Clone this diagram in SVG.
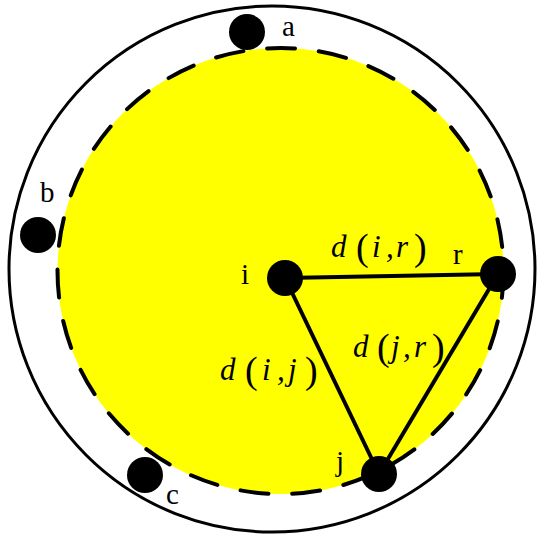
<svg xmlns="http://www.w3.org/2000/svg" width="540" height="540" viewBox="0 0 540 540">
<style>
.lbl{font-family:"Liberation Serif","Times New Roman",serif;font-size:29px;fill:#000}
.m{font-family:"Liberation Serif","Times New Roman",serif;font-style:italic;font-size:31px;fill:#000}
.p{font-style:normal;font-size:38px}
.node{fill:#000}
.edge{stroke:#000;stroke-width:4;fill:none}
</style>
<rect width="540" height="540" fill="#fff"/>
<g id="outer">
<circle cx="272" cy="269" r="263" fill="none" stroke="#000" stroke-width="3"/>
</g>
<g id="region">
<circle cx="280.5" cy="271" r="223" fill="#ffff00" stroke="#000" stroke-width="4" stroke-dasharray="28 23.9" stroke-dashoffset="1" stroke-linecap="round"/>
</g>
<g id="connectors">
<line class="edge" x1="285" y1="278" x2="498" y2="274"/>
<line class="edge" x1="285" y1="278" x2="379" y2="474"/>
<line class="edge" x1="498" y1="274" x2="379" y2="474"/>
<text class="m" y="257"><tspan x="331">d</tspan><tspan class="p" x="356" y="260">(</tspan><tspan x="372" y="257">i</tspan><tspan x="386">,</tspan><tspan x="396">r</tspan><tspan class="p" x="414" y="260">)</tspan></text>
<text class="m" y="380"><tspan x="220">d</tspan><tspan class="p" x="245" y="383">(</tspan><tspan x="262" y="380">i</tspan><tspan x="277">,</tspan><tspan x="288">j</tspan><tspan class="p" x="305" y="383">)</tspan></text>
<text class="m" y="357"><tspan x="353">d</tspan><tspan class="p" x="377" y="360">(</tspan><tspan x="391" y="357">j</tspan><tspan x="403">,</tspan><tspan x="414">r</tspan><tspan class="p" x="432" y="360">)</tspan></text>
</g>
<g id="node-a"><circle class="node" cx="247" cy="32" r="18"/><text class="lbl" x="282" y="36">a</text></g>
<g id="node-b"><circle class="node" cx="38" cy="235" r="18"/><text class="lbl" x="40" y="202">b</text></g>
<g id="node-c"><circle class="node" cx="145" cy="475" r="18"/><text class="lbl" x="166" y="504">c</text></g>
<g id="node-i"><circle class="node" cx="285" cy="278" r="18"/><text class="lbl" x="241" y="284">i</text></g>
<g id="node-r"><circle class="node" cx="498" cy="274" r="18"/><text class="lbl" x="453" y="264">r</text></g>
<g id="node-j"><circle class="node" cx="379" cy="474" r="18"/><text class="lbl" x="336" y="471">j</text></g>
</svg>
